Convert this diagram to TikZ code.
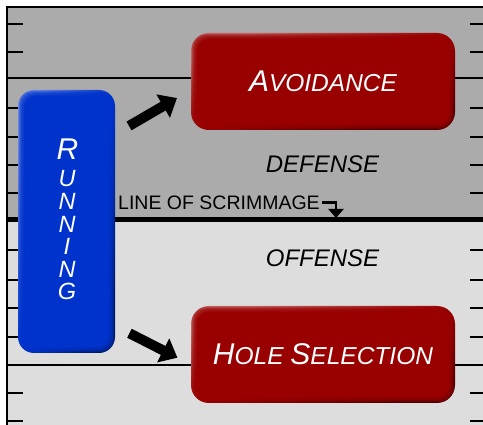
\documentclass[tikz,border=0pt]{standalone}
\usepackage{fontspec}
\usepackage{tikz}
\usetikzlibrary{arrows.meta}

\newfontfamily\labelfont{Liberation Sans}

\definecolor{fieldtop}{HTML}{ABABAB}
\definecolor{fieldbot}{HTML}{DDDDDD}
\definecolor{boxred}{HTML}{990000}
\definecolor{boxblue}{HTML}{0033CC}

% big first letter, smaller rest (small caps look)
\newcommand{\capword}[2]{{\fontsize{30}{30}\selectfont #1}{\fontsize{24.5}{24.5}\selectfont #2}}

\tikzset{
    bevel/.style 2 args={
        top color=#1!60!white, bottom color=#1!50!black, middle color=#1,
        shading angle=#2, text=white, inner sep=0pt,
        path picture={
            \foreach \d in {1,...,5}
                \fill[#1, opacity=0.35, rounded corners=13pt]
                    ([shift={(\d pt,-\d pt)}]path picture bounding box.north west)
                    rectangle ([shift={(-\d pt,\d pt)}]path picture bounding box.south east);
            \fill[#1, rounded corners=12pt]
                ([shift={(6pt,-6pt)}]path picture bounding box.north west)
                rectangle ([shift={(-6pt,6pt)}]path picture bounding box.south east);
        }},
    redbox/.style={bevel={boxred}{20}, rounded corners=18pt,
        minimum width=264pt, minimum height=97pt,
        font=\labelfont\itshape\fontsize{24.5}{24.5}\selectfont},
    bluebox/.style={bevel={boxblue}{70}, rounded corners=16pt,
        minimum width=97pt, minimum height=263pt},
    runletter/.style={anchor=base, text=white, inner sep=0pt},
    sidelabel/.style={anchor=base, inner sep=0pt,
        font=\labelfont\itshape\fontsize{24}{24}\selectfont},
    yardtick/.style={line width=1.5pt},
    bigarrow/.style={line width=10pt, -{Triangle[length=16pt,width=26pt]}},
}

\begin{document}
\begin{tikzpicture}[x=1pt,y=-1pt]
    \useasboundingbox (0,0) rectangle (483,425);

    % Field: defense half on top, offense half below
    \fill[fieldtop] (7,7) rectangle (483,220);
    \fill[fieldbot] (7,220) rectangle (483,425);
    \draw[line width=1.5pt] (7,425) -- (7,7) -- (483,7);
    \draw[line width=2pt] (7,78) -- (483,78);     % yard line
    \draw[line width=2pt] (7,365) -- (483,365);   % yard line
    \draw[line width=5pt] (7,220) -- (483,220);   % scrimmage

    % Hash marks on both sides
    \foreach \y in {24,52,108,137,165,193,250,280,308,337,393,421} {
        \draw[yardtick] (7,\y) -- (23,\y);
        \draw[yardtick] (470,\y) -- (483,\y);
    }

    % Boxes
    \node[bluebox] (running) at (66.5,221.5) {};
    \node[redbox] (avoid) at (323,81.5) {\capword{A}{VOIDANCE}};
    \node[redbox] (hole) at (323,354.5) {\capword{H}{OLE} \capword{S}{ELECTION}};

    % Vertical word in the blue box
    \node[runletter, font=\labelfont\itshape\fontsize{30}{30}\selectfont] (run-0) at (67.5,160) {R};
    \foreach \ch [count=\i] in {U,N,N,I,N,G}
        \node[runletter, font=\labelfont\itshape\fontsize{23.5}{23.5}\selectfont]
            (run-\i) at (67,{187+22.6*(\i-1)}) {\ch};

    % Labels
    \node[sidelabel] (defense) at (322.5,173) {DEFENSE};
    \node[sidelabel] (offense) at (322.5,267) {OFFENSE};
    \node[anchor=base west, inner sep=0pt,
        font=\labelfont\fontsize{19.5}{19.5}\selectfont] (scrim) at (118,210) {LINE OF SCRIMMAGE};
    \coordinate (scrimtip) at (336,218);
    \draw[line width=2.5pt, -{Triangle[length=9pt,width=15pt]}]
        ([xshift=2pt,yshift=1pt]scrim.east) -| (scrimtip);

    % Arrows
    \draw[bigarrow, shorten <=16pt, shorten >=16pt]
        ([yshift=87.5pt]running.east) -- ([yshift=-8.5pt]avoid.west);
    \draw[bigarrow, shorten <=16pt, shorten >=15pt]
        ([yshift=-104.5pt]running.east) -- ([yshift=-10pt]hole.west);
\end{tikzpicture}
\end{document}
